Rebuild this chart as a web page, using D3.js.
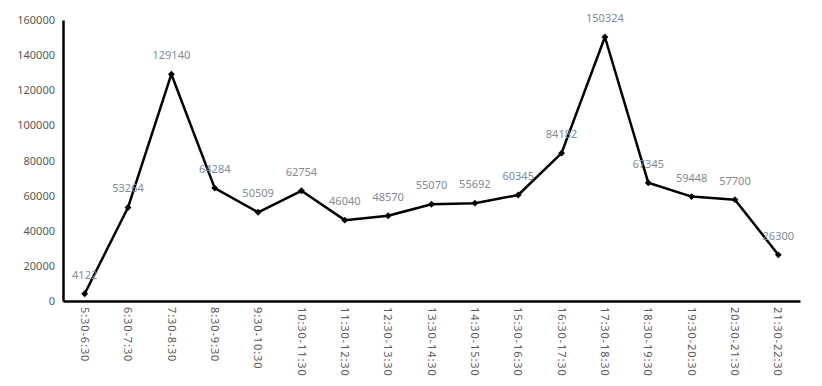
<html>
  <head>
    <style>
    body {
      margin: 0;
      background: #fff;
    }
    text {
      font-family: "Noto Sans", sans-serif;
    }
    </style>
  </head>
  <body>
    <script src="https://d3js.org/d3.v7.min.js"></script>
    <script>
    var width = 822,
      height = 386;

    var slots = ["5:30-6:30", "6:30-7:30", "7:30-8:30", "8:30-9:30", "9:30-10:30",
      "10:30-11:30", "11:30-12:30", "12:30-13:30", "13:30-14:30", "14:30-15:30",
      "15:30-16:30", "16:30-17:30", "17:30-18:30", "18:30-19:30", "19:30-20:30",
      "20:30-21:30", "21:30-22:30"];
    var counts = [4122, 53264, 129140, 64284, 50509, 62754, 46040, 48570, 55070,
      55692, 60345, 84182, 150324, 67345, 59448, 57700, 26300];
    var yTicks = [0, 20000, 40000, 60000, 80000, 100000, 120000, 140000, 160000];

    var margin = {left: 63, right: 22, top: 20, bottom: 85};

    var svg = d3.select("body").append("svg")
        .attr("width", width)
        .attr("height", height);

    var x = d3.scaleBand()
        .domain(slots)
        .range([margin.left, width - margin.right]);

    var y = d3.scaleLinear()
        .domain([0, 160000])
        .range([height - margin.bottom, margin.top]);

    // y axis
    var yAxis = svg.append("g")
        .attr("transform", "translate(" + margin.left + ",0)")
        .call(d3.axisLeft(y).tickValues(yTicks).tickFormat(d3.format("d")).tickSize(0).tickPadding(8));
    yAxis.select(".domain").attr("stroke", "#000").attr("stroke-width", 2.5);
    yAxis.selectAll("text")
        .attr("fill", "#595959")
        .style("font-size", "11px");

    // x axis
    var xAxis = svg.append("g")
        .attr("transform", "translate(0," + (height - margin.bottom) + ")")
        .call(d3.axisBottom(x).tickSize(0).tickSizeOuter(0));
    xAxis.select(".domain").attr("stroke", "#000").attr("stroke-width", 2.5);
    xAxis.selectAll("text")
        .attr("fill", "#595959")
        .style("font-size", "11px")
        .style("letter-spacing", "0.9px")
        .attr("text-anchor", "start")
        .attr("dy", "0.35em")
        .attr("transform", "translate(0,6) rotate(90)")
        .attr("x", 0)
        .attr("y", 0);

    var cx = function(d, i){ return x(slots[i]) + x.bandwidth() / 2; };

    var line = d3.line()
        .x(cx)
        .y(function(d){ return y(d); });

    svg.append("path")
        .datum(counts)
        .attr("fill", "none")
        .attr("stroke", "#000")
        .attr("stroke-width", 2.5)
        .attr("stroke-linejoin", "round")
        .attr("d", line);

    var diamond = d3.symbol().type(d3.symbolDiamond2).size(30);

    svg.selectAll(".marker")
        .data(counts)
      .enter().append("path")
        .attr("class", "marker")
        .attr("d", diamond)
        .attr("fill", "#000")
        .attr("transform", function(d, i){ return "translate(" + cx(d, i) + "," + y(d) + ")"; });

    svg.selectAll(".label")
        .data(counts)
      .enter().append("text")
        .attr("class", "label")
        .attr("x", cx)
        .attr("y", function(d){ return y(d) - 15; })
        .attr("text-anchor", "middle")
        .attr("fill", "#7f8a9c")
        .style("font-size", "11px")
        .text(function(d){ return d; });
    </script>
  </body>
</html>
